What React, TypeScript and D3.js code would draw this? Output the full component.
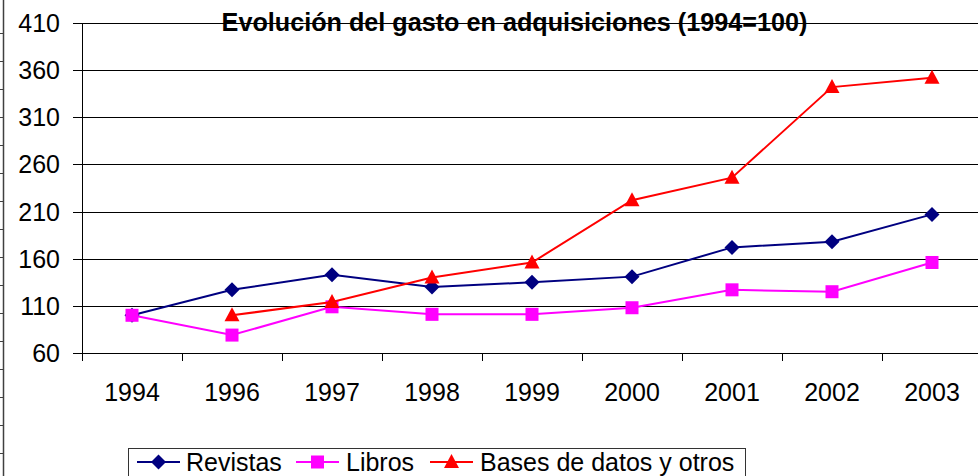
import React from "react";
import * as d3 from "d3";

const years = ["1994", "1996", "1997", "1998", "1999", "2000", "2001", "2002", "2003"];
const revistas = [100, 127, 143, 130, 135, 141, 172, 178, 207];
const libros = [100, 79, 109, 101, 101, 108, 127, 125, 156];
const bases = [null, 100, 114, 140, 156, 222, 246, 342, 352];
const yTicks = [60, 110, 160, 210, 260, 310, 360, 410];

const W = 978;
const H = 476;
const FONT = "Arial, 'Liberation Sans', sans-serif";

const series = [
  { name: "Revistas", values: revistas, color: "#000080", marker: "diamond" },
  { name: "Libros", values: libros, color: "#FF00FF", marker: "square" },
  { name: "Bases de datos y otros", values: bases, color: "#FF0000", marker: "triangle" },
];

const Marker = ({ type, x, y, color }) => {
  if (type === "diamond") {
    return <path d={`M${x},${y - 7.5}L${x + 7.5},${y}L${x},${y + 7.5}L${x - 7.5},${y}Z`} fill={color} />;
  }
  if (type === "square") {
    return <rect x={x - 6.5} y={y - 6.5} width={13} height={13} fill={color} />;
  }
  return <path d={`M${x},${y - 8}L${x + 7.5},${y + 6}L${x - 7.5},${y + 6}Z`} fill={color} />;
};

export default function App() {
  const x = d3.scaleBand().domain(years).range([82, 982]);
  const y = d3.scaleLinear().domain([60, 410]).range([353, 23]);
  const cx = (d) => x(d) + x.bandwidth() / 2;

  const line = d3
    .line()
    .defined((d) => d[1] != null)
    .x((d) => cx(d[0]))
    .y((d) => y(d[1]));

  // legend layout
  const legendItems = [
    { x: 137, text: 186 },
    { x: 296, text: 346 },
    { x: 430, text: 480 },
  ];

  return (
    <svg width={W} height={H} style={{ position: "absolute", left: 0, top: 0, background: "#fff" }}>
      <rect width={W} height={H} fill="#fff" />

      {/* sheet edge on the left */}
      <line x1={3.5} x2={3.5} y1={0} y2={H} stroke="#404040" strokeWidth={1.5} />
      {d3.range(33, H, 28).map((t) => (
        <line key={t} x1={0} x2={3} y1={t + 0.5} y2={t + 0.5} stroke="#404040" />
      ))}

      {/* gridlines and y axis */}
      {yTicks.map((t) => (
        <g key={t}>
          <line x1={73} x2={W} y1={Math.round(y(t)) + 0.5} y2={Math.round(y(t)) + 0.5} stroke="#000" strokeWidth={1} />
          <text x={60} y={y(t) + 9} textAnchor="end" fontFamily={FONT} fontSize={25} fill="#000">
            {t}
          </text>
        </g>
      ))}
      <line x1={82.5} x2={82.5} y1={23} y2={361} stroke="#000" />
      <line x1={82} x2={W} y1={353.5} y2={353.5} stroke="#000" />

      {/* x axis ticks and labels */}
      {years.map((d, i) => (
        <g key={d}>
          {i > 0 && <line x1={x(d) + 0.5} x2={x(d) + 0.5} y1={353} y2={361} stroke="#000" />}
          <text x={cx(d)} y={401} textAnchor="middle" fontFamily={FONT} fontSize={25} fill="#000">
            {d}
          </text>
        </g>
      ))}

      {/* title */}
      <text x={514.5} y={31} textAnchor="middle" fontFamily={FONT} fontSize={25.2} fontWeight="bold" fill="#000">
        Evolución del gasto en adquisiciones (1994=100)
      </text>

      {/* series */}
      {series.map((s) => {
        const pts = years.map((d, i) => [d, s.values[i]]);
        return (
          <g key={s.name}>
            <path d={line(pts)} fill="none" stroke={s.color} strokeWidth={2} />
            {pts
              .filter((p) => p[1] != null)
              .map((p) => (
                <Marker key={p[0]} type={s.marker} x={cx(p[0])} y={y(p[1])} color={s.color} />
              ))}
          </g>
        );
      })}

      {/* legend */}
      <rect x={128.5} y={448.5} width={617} height={40} fill="#fff" stroke="#333" strokeWidth={1} />
      {series.map((s, i) => {
        const it = legendItems[i];
        return (
          <g key={s.name}>
            <line x1={it.x} x2={it.x + 43} y1={462} y2={462} stroke={s.color} strokeWidth={2} />
            <Marker type={s.marker} x={it.x + 21.5} y={462} color={s.color} />
            <text x={it.text} y={471} fontFamily={FONT} fontSize={25} fill="#000">
              {s.name}
            </text>
          </g>
        );
      })}
    </svg>
  );
}
